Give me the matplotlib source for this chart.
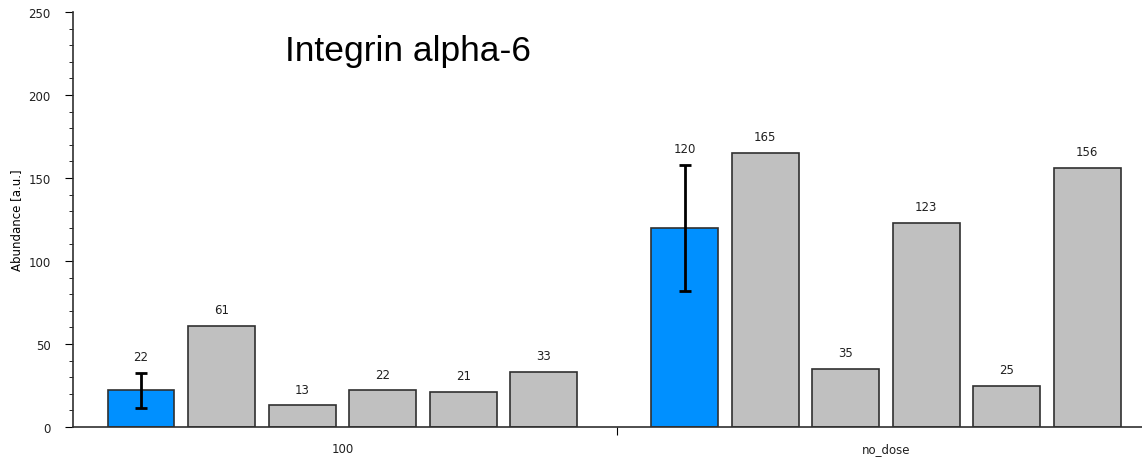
import numpy as np
import matplotlib.pyplot as plt

plt.rcParams['font.family'] = ['DejaVu Sans']

groups = ['100', 'no_dose']
values_100 = [22, 61, 13, 22, 21, 33]
values_no_dose = [120, 165, 35, 123, 25, 156]
err_100 = [10.5, 0, 0, 0, 0, 0]
err_no_dose = [38, 0, 0, 0, 0, 0]
title = 'Integrin alpha-6'

blue = '#0090FF'
gray = '#C0C0C0'

fig = plt.figure(figsize=(11.42, 4.6), dpi=100)
ax = fig.add_axes([73 / 1142, 32 / 460, 1 - 73 / 1142, 415 / 460])

gap = 6.75
x1 = np.arange(len(values_100))
x2 = np.arange(len(values_no_dose)) + gap
xs = np.concatenate([x1, x2])
vals = values_100 + values_no_dose
errs = err_100 + err_no_dose
colors = ([blue] + [gray] * (len(values_100) - 1)) + ([blue] + [gray] * (len(values_no_dose) - 1))

ax.bar(xs, vals, width=0.83, color=colors, edgecolor='#303030', linewidth=1.2, zorder=2)

# error bars only on the blue (mean) bars
for x, v, e in zip(xs, vals, errs):
    if e > 0:
        ax.errorbar(x, v, yerr=e, fmt='none', ecolor='black', elinewidth=2,
                    capsize=4.5, capthick=2, zorder=3)

for x, v, e in zip(xs, vals, errs):
    ax.annotate(f'{v}', (x, v + e), xytext=(0, 7), textcoords='offset points',
                ha='center', va='bottom', fontsize=8.5, color='#202020')

ax.set_xlim(-0.845, 12.43)
ax.set_ylim(0, 250)
ax.set_yticks(np.arange(0, 251, 50))
ax.set_yticks(np.arange(0, 251, 10), minor=True)
ax.tick_params(axis='y', which='major', length=6, labelsize=8.5, labelcolor='#202020', pad=10)
ax.tick_params(axis='y', which='minor', length=3)

ax.set_xticks([5.91])
ax.set_xticklabels([''])
ax.tick_params(axis='x', length=6)
centers = [x1.mean(), x2.mean()]
for c, g in zip(centers, groups):
    ax.text(c, -0.053, g, transform=ax.get_xaxis_transform(), ha='center', va='center',
            fontsize=8.5, color='#202020')

for s in ['top', 'right']:
    ax.spines[s].set_visible(False)
ax.spines['left'].set_color('#303030')
ax.spines['bottom'].set_color('#303030')
ax.spines['left'].set_linewidth(1.2)
ax.spines['bottom'].set_linewidth(1.2)

ax.set_ylabel('Abundance [a.u.]', fontsize=8.5)
ax.yaxis.set_label_coords(-0.047, 0.50)

fig.text(285 / 1142, 1 - 52 / 460, title, fontsize=25.5, ha='left', va='center',
         color='black', family=['Liberation Sans', 'DejaVu Sans'])

fig.savefig('out.png', dpi=100)
